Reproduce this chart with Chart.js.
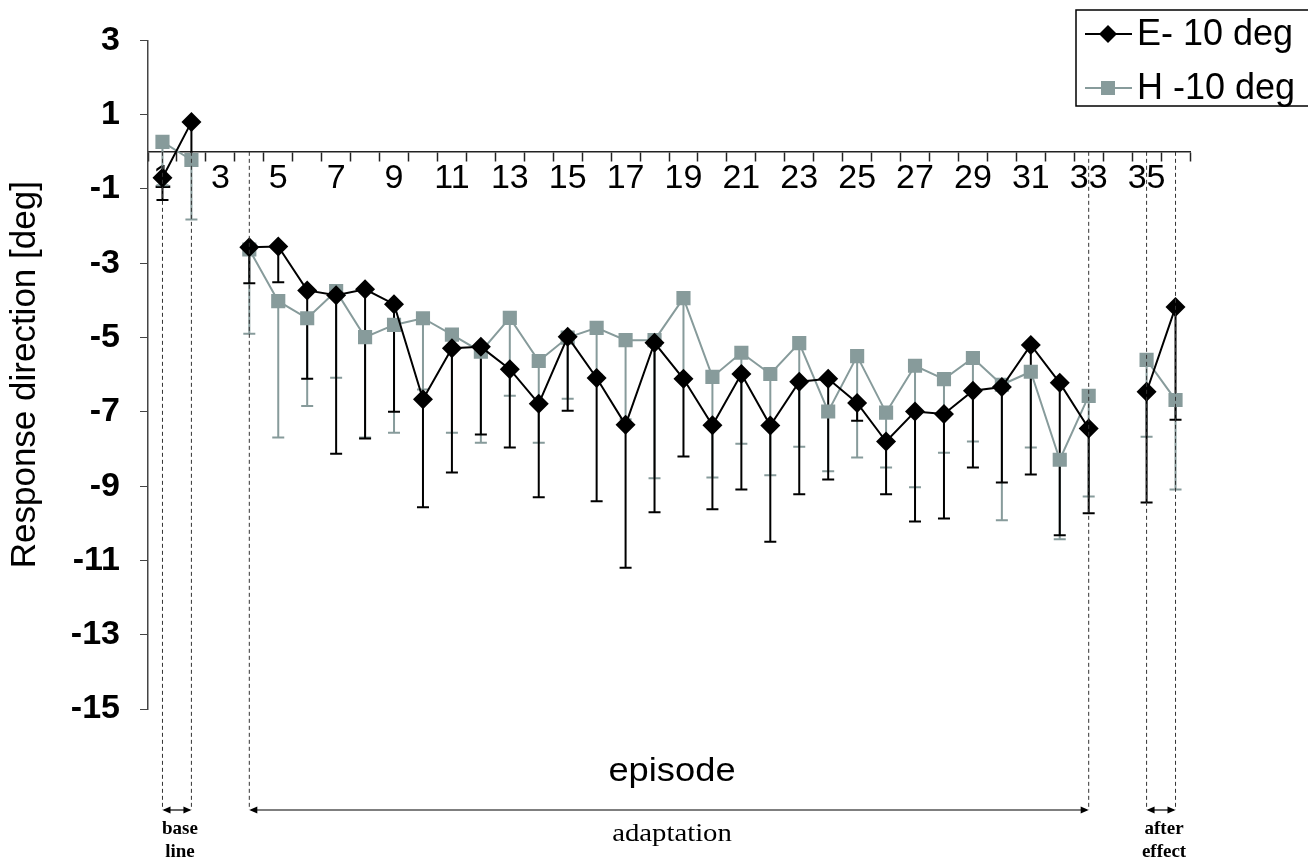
<!DOCTYPE html>
<html>
<head>
<meta charset="utf-8">
<script src="https://cdn.jsdelivr.net/npm/chart.js@4"></script>
<style>
  html, body { margin: 0; padding: 0; background: #fff; }
</style>
</head>
<body>
<canvas id="responseChart" width="1308" height="864"></canvas>
<script>
// episodes 1..36 (3 and 34 are empty)
const episodes = ['1','2','3','4','5','6','7','8','9','10','11','12','13','14','15','16','17','18',
  '19','20','21','22','23','24','25','26','27','28','29','30','31','32','33','34','35','36'];

// E- 10 deg : mean and lower end of error bar
const eMean = [-0.7, 0.8, null, -2.57, -2.55, -3.73, -3.86, -3.7, -4.1, -6.66, -5.29, -5.25,
  -5.85, -6.78, -4.98, -6.09, -7.35, -5.14, -6.11, -7.36, -5.98, -7.37, -6.19, -6.11,
  -6.76, -7.8, -6.99, -7.06, -6.43, -6.33, -5.2, -6.22, -7.45, null, -6.46, -4.18];
const eLow = [-1.3, -0.1, null, -3.54, -3.51, -6.11, -8.13, -7.72, -7.0, -9.57, -8.63, -7.61,
  -7.96, -9.3, -6.97, -9.41, -11.2, -9.7, -8.2, -9.62, -9.09, -10.5, -9.22, -8.82,
  -7.24, -9.22, -9.95, -9.87, -8.5, -8.9, -8.69, -10.32, -9.73, null, -9.44, -7.21];

// H -10 deg
const hMean = [0.27, -0.22, null, -2.63, -4.02, -4.48, -3.75, -4.99, -4.66, -4.48, -4.92, -5.38,
  -4.47, -5.63, -5.0, -4.74, -5.07, -5.07, -3.94, -6.06, -5.41, -5.98, -5.15, -6.99,
  -5.5, -7.02, -5.76, -6.12, -5.55, -6.27, -5.92, -8.29, -6.57, null, -5.6, -6.68];
const hLow = [-0.9, -1.82, null, -4.9, -7.69, -6.84, -6.08, -7.69, -7.56, -6.4, -7.56, -7.83,
  -6.57, -7.83, -6.65, -6.0, -7.2, -8.79, -6.1, -8.77, -7.86, -8.71, -7.94, -8.6,
  -8.23, -8.5, -9.03, -8.1, -7.8, -9.92, -7.96, -10.43, -9.28, null, -7.67, -9.09];

// phase brackets under the plot: [first episode, last episode, text lines, small bold]
const phases = [
  [1, 2, ['base', 'line'], true],
  [4, 33, ['adaptation'], false],
  [35, 36, ['after', 'effect'], true]
];

const black = '#000000';
const grey = '#879b9b';

Chart.defaults.font.family = '"Liberation Sans", Arial, sans-serif';
Chart.defaults.color = '#000';

const errorBars = {
  id: 'errorBars',
  beforeDatasetsDraw(chart) {
    const ctx = chart.ctx;
    const y = chart.scales.y;
    [1, 0].forEach(function (di) {
      const ds = chart.data.datasets[di];
      const meta = chart.getDatasetMeta(di);
      ctx.save();
      ctx.strokeStyle = ds.borderColor;
      ctx.lineWidth = 2;
      ds.errLow.forEach(function (low, i) {
        if (low == null || ds.data[i] == null) return;
        const x = meta.data[i].x;
        const y0 = y.getPixelForValue(ds.data[i]);
        const y1 = y.getPixelForValue(low);
        ctx.beginPath();
        ctx.moveTo(x, y0);
        ctx.lineTo(x, y1);
        ctx.moveTo(x - 6, y1);
        ctx.lineTo(x + 6, y1);
        ctx.stroke();
      });
      ctx.restore();
    });
  }
};

function stretchText(ctx, str, x, y, sx) {
  ctx.save();
  ctx.translate(x, y);
  ctx.scale(sx, 1);
  ctx.fillText(str, 0, 0);
  ctx.restore();
}

function arrowHead(ctx, x, y, dir) {
  ctx.beginPath();
  ctx.moveTo(x, y);
  ctx.lineTo(x - dir * 8, y - 3.5);
  ctx.lineTo(x - dir * 8, y + 3.5);
  ctx.closePath();
  ctx.fill();
}

const extras = {
  id: 'extras',
  afterDraw(chart) {
    const ctx = chart.ctx;
    const x = chart.scales.x;
    const y = chart.scales.y;
    const yAxis = y.getPixelForValue(0);
    const yArrow = 810;

    ctx.save();
    // dashed guides
    ctx.strokeStyle = '#333';
    ctx.lineWidth = 1;
    ctx.setLineDash([4, 3]);
    phases.forEach(function (p) {
      [p[0], p[1]].forEach(function (ep) {
        const px = x.getPixelForValue(ep - 1);
        ctx.beginPath();
        ctx.moveTo(px, yAxis);
        ctx.lineTo(px, yArrow);
        ctx.stroke();
      });
    });
    ctx.setLineDash([]);

    // arrows and phase names
    ctx.fillStyle = '#000';
    ctx.strokeStyle = '#000';
    ctx.textAlign = 'center';
    ctx.textBaseline = 'middle';
    phases.forEach(function (p) {
      const xa = x.getPixelForValue(p[0] - 1);
      const xb = x.getPixelForValue(p[1] - 1);
      ctx.lineWidth = 1.2;
      ctx.beginPath();
      ctx.moveTo(xa + 2, yArrow);
      ctx.lineTo(xb - 2, yArrow);
      ctx.stroke();
      arrowHead(ctx, xa, yArrow, -1);
      arrowHead(ctx, xb, yArrow, 1);
      const cx = (xa + xb) / 2 + 3;
      if (p[3]) {
        ctx.font = 'bold 19px "Liberation Serif", serif';
        stretchText(ctx, p[2][0], cx, 829, 1.0);
        stretchText(ctx, p[2][1], cx, 852, 1.0);
      } else {
        ctx.font = '25px "Liberation Serif", serif';
        stretchText(ctx, p[2][0], cx, 834, 1.15);
      }
    });

    // x axis title inside the plot
    ctx.font = '33px "Liberation Sans", Arial, sans-serif';
    stretchText(ctx, 'episode', 672, 772, 1.1);

    // legend
    ctx.lineWidth = 1.5;
    ctx.strokeRect(1076, 10, 250, 96);
    ctx.textAlign = 'left';
    ctx.font = '36px "Liberation Sans", Arial, sans-serif';
    const rows = [[34, black, 'E- 10 deg', 'diamond'], [88, grey, 'H -10 deg', 'square']];
    rows.forEach(function (r) {
      ctx.strokeStyle = r[1];
      ctx.fillStyle = r[1];
      ctx.lineWidth = 2;
      ctx.beginPath();
      ctx.moveTo(1085, r[0]);
      ctx.lineTo(1132, r[0]);
      ctx.stroke();
      if (r[3] === 'diamond') {
        ctx.beginPath();
        ctx.moveTo(1108, r[0] - 9);
        ctx.lineTo(1117, r[0]);
        ctx.lineTo(1108, r[0] + 9);
        ctx.lineTo(1099, r[0]);
        ctx.closePath();
        ctx.fill();
      } else {
        ctx.fillRect(1101, r[0] - 7, 14, 14);
      }
      ctx.fillStyle = '#000';
      ctx.fillText(r[2], 1137, r[0] + 1);
    });
    ctx.restore();
  }
};

const ctx = document.getElementById('responseChart').getContext('2d');
const responseChart = new Chart(ctx, {
  type: 'line',
  data: {
    labels: episodes,
    datasets: [{
      label: 'E- 10 deg',
      data: eMean,
      errLow: eLow,
      borderColor: black,
      backgroundColor: black,
      borderWidth: 2,
      pointStyle: 'rectRot',
      pointRadius: 10,
      pointBorderWidth: 0,
      spanGaps: false,
      tension: 0
    }, {
      label: 'H -10 deg',
      data: hMean,
      errLow: hLow,
      borderColor: grey,
      backgroundColor: grey,
      borderWidth: 2,
      pointStyle: 'rect',
      pointRadius: 10,
      pointBorderWidth: 0,
      spanGaps: false,
      tension: 0
    }]
  },
  options: {
    responsive: false,
    animation: false,
    events: [],
    layout: { padding: { left: 0, right: 118, top: 38, bottom: 155 } },
    plugins: {
      legend: { display: false },
      tooltip: { enabled: false }
    },
    scales: {
      x: {
        type: 'category',
        offset: true,
        position: { y: 0 },
        grid: { drawOnChartArea: false, offset: true, tickLength: 9, color: '#222', tickWidth: 1.5 },
        border: { color: '#222', width: 1.5 },
        ticks: {
          autoSkip: false,
          maxRotation: 0,
          padding: -3,
          color: '#000',
          font: { size: 34 },
          callback: function (v, i) { return i % 2 === 0 ? episodes[i] : ''; }
        }
      },
      y: {
        min: -15,
        max: 3,
        ticks: { stepSize: 2, color: '#000', font: { size: 34, weight: 'bold' }, padding: 20 },
        grid: { drawOnChartArea: false, tickLength: 8, color: '#444' },
        border: { color: '#444', width: 1.5 },
        title: {
          display: true,
          text: 'Response direction [deg]',
          color: '#000',
          font: { size: 35 },
          padding: { top: 4, bottom: 0 }
        },
        afterFit: function (scale) { scale.width = 148; }
      }
    }
  },
  plugins: [errorBars, extras]
});
</script>
</body>
</html>
